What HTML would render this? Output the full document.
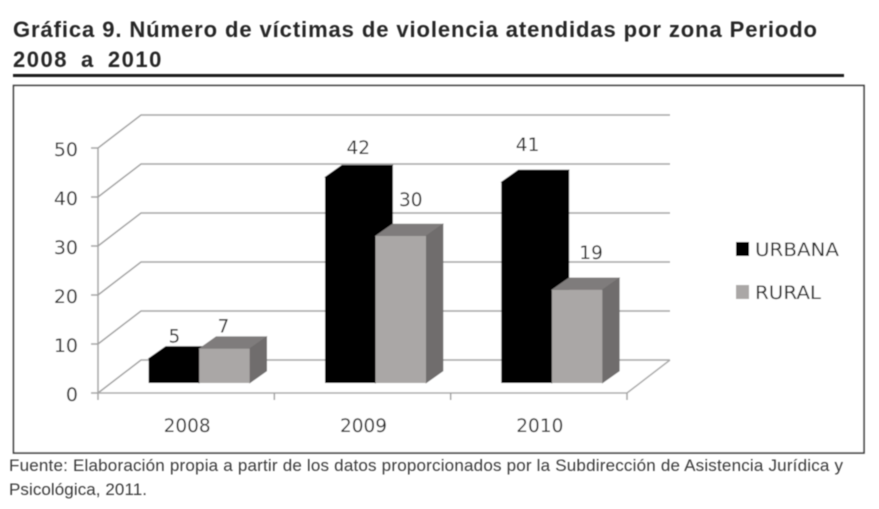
<!DOCTYPE html>
<html lang="es">
<head>
<meta charset="utf-8">
<title>Gráfica 9</title>
<style>
html,body{margin:0;padding:0;background:#fff;}
body{width:879px;height:509px;overflow:hidden;}
svg{display:block;}
text{font-family:"Liberation Sans",sans-serif;}
#plot text{font-family:"DejaVu Sans",sans-serif;}
</style>
</head>
<body>
<svg id="figure" width="879" height="509" viewBox="0 0 879 509" xmlns="http://www.w3.org/2000/svg">
  <defs><filter id="soft" x="-5%" y="-5%" width="110%" height="110%"><feGaussianBlur stdDeviation="0.45"/></filter></defs>
  <rect width="879" height="509" fill="#fff"/>
  <g filter="url(#soft)">
    <text x="13" y="37" font-size="22" font-weight="bold" fill="#262626" textLength="804" lengthAdjust="spacing">Gráfica 9. Número de víctimas de violencia atendidas por zona Periodo</text>
    <text x="13" y="67" font-size="22" font-weight="bold" fill="#262626" letter-spacing="1.5" word-spacing="5.5" xml:space="preserve">2008 a 2010</text>
    <rect x="13" y="74" width="831" height="3" fill="#1c1c1c"/>
    <rect x="13.5" y="85.5" width="850.5" height="367.5" fill="#fff" stroke="#3a3a3a" stroke-width="1.6"/>
    <g id="plot"></g>
    <text x="9" y="471" font-size="17" fill="#3a3a3a" textLength="834" lengthAdjust="spacing">Fuente: Elaboración propia a partir de los datos proporcionados por la Subdirección de Asistencia Jurídica y</text>
    <text x="9" y="495" font-size="17" fill="#3a3a3a" textLength="138" lengthAdjust="spacing">Psicológica, 2011.</text>
  </g>
</svg>
<script>
const categories = ['2008', '2009', '2010'];
const urbana = [5, 42, 41];
const rural = [7, 30, 19];
const yTicks = [0, 10, 20, 30, 40, 50];

const SVGNS = 'http://www.w3.org/2000/svg';
const plot = document.getElementById('plot');
const frontBaseY = 393, frontLeftX = 98, frontRightX = 627;
const depthX = 43, depthY = 33;
const unit = 4.9;
const barBaseY = 383, barW = 50.5, barDepthX = 17, barDepthY = 12;
const gridColor = '#a2a2a2', labelColor = '#2e2e2e';

function make(tag, attrs, text) {
  const el = document.createElementNS(SVGNS, tag);
  for (const k in attrs) el.setAttribute(k, attrs[k]);
  if (text !== undefined) el.textContent = text;
  plot.appendChild(el);
  return el;
}
function yFront(v) { return frontBaseY - v * unit; }
function yBar(v) { return barBaseY - v * unit; }
function xGroup(i) { return frontLeftX + (frontRightX - frontLeftX) * (i + 0.5) / categories.length; }
function pts(list) { return list.map(p => p.join(',')).join(' '); }

// gridlines and tick labels
yTicks.forEach(function (t) {
  const y = yFront(t);
  const grid = make('polyline', { points: pts([[frontLeftX, y], [frontLeftX + depthX, y - depthY], [frontRightX + depthX, y - depthY]]), fill: 'none', stroke: gridColor, 'stroke-width': 1.5 });
  
  
  const tick = make('line', { x1: frontLeftX - 7, x2: frontLeftX, y1: y, y2: y, stroke: gridColor, 'stroke-width': 1.5 });
  
  
  const label = make('text', { x: 78, y: y + 8, 'text-anchor': 'end', 'font-size': 19, fill: labelColor }, String(t));
  
  
});

// axis lines
const yAxis = make('line', { x1: frontLeftX, x2: frontLeftX, y1: yFront(yTicks[yTicks.length - 1]), y2: frontBaseY + 7, stroke: gridColor, 'stroke-width': 1.5 });


const floorEdge = make('polyline', { points: pts([[frontLeftX, frontBaseY], [frontRightX, frontBaseY], [frontRightX + depthX, frontBaseY - depthY]]), fill: 'none', stroke: '#aaa', 'stroke-width': 1.5 });



categories.forEach(function (c, i) {
  const tx = frontLeftX + (frontRightX - frontLeftX) * (i + 1) / categories.length;
  const tick = make('line', { x1: tx, x2: tx, y1: frontBaseY, y2: frontBaseY + 7, stroke: gridColor, 'stroke-width': 1.5 });
  
  
  const label = make('text', { x: xGroup(i) + 1, y: 432, 'text-anchor': 'middle', 'font-size': 18.5, fill: labelColor }, c);
  
  
});

function drawBar(value, x, name, front, top, side) {
  const y = yBar(value);
  const topFace = make('polygon', { points: pts([[x, y], [x + barDepthX, y - barDepthY], [x + barW + barDepthX, y - barDepthY], [x + barW, y]]), fill: top, stroke: top, 'stroke-width': 0.6 });
  
  
  const sideFace = make('polygon', { points: pts([[x + barW, y], [x + barW + barDepthX, y - barDepthY], [x + barW + barDepthX, barBaseY - barDepthY], [x + barW, barBaseY]]), fill: side, stroke: side, 'stroke-width': 0.6 });
  
  
  const frontFace = make('rect', { x: x, y: y, width: barW, height: barBaseY - y, fill: front });
  
  
}

function drawValue(value, x, yOffset, name) {
  const label = make('text', { x: x, y: yBar(value) - yOffset, 'text-anchor': 'middle', 'font-size': 18.5, fill: labelColor }, String(value));
  
  
}

// hand placement of the value labels, as the original chart has them
const urbanaNudge = [[0.5, 16], [8, 23], [1, 31]];
const ruralNudge = [[-1, 16], [10, 30], [14, 31]];

categories.forEach(function (c, i) {
  const left = xGroup(i) - 37.5;
  drawBar(urbana[i], left, 'bar-urbana-' + c, '#000', '#000', '#000');
  drawBar(rural[i], left + barW, 'bar-rural-' + c, '#aaa7a6', '#7f7c7b', '#6f6d6d');
});
categories.forEach(function (c, i) {
  const left = xGroup(i) - 37.5;
  drawValue(urbana[i], left + barW / 2 + urbanaNudge[i][0], urbanaNudge[i][1], 'value-urbana-' + c);
  drawValue(rural[i], left + barW * 1.5 + ruralNudge[i][0], ruralNudge[i][1], 'value-rural-' + c);
});

// legend
const swatchU = make('rect', { x: 736, y: 242, width: 13, height: 14, fill: '#000' });


const textU = make('text', { x: 755, y: 256, 'font-size': 18.5, fill: labelColor, textLength: 84, lengthAdjust: 'spacingAndGlyphs' }, 'URBANA');


const swatchR = make('rect', { x: 736, y: 285, width: 13, height: 14, fill: '#aaa7a6' });


const textR = make('text', { x: 755, y: 299, 'font-size': 18.5, fill: labelColor, textLength: 66, lengthAdjust: 'spacingAndGlyphs' }, 'RURAL');


</script>
</body>
</html>
